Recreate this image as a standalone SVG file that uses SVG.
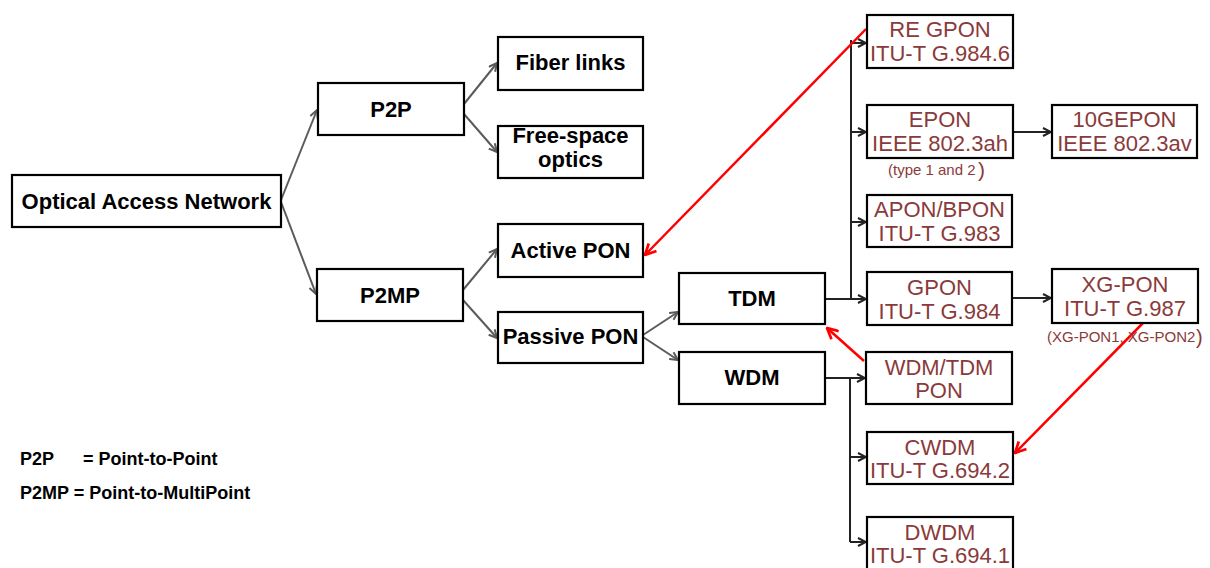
<svg xmlns="http://www.w3.org/2000/svg" width="1210" height="568" viewBox="0 0 1210 568">
  <style>
    .box { fill: #ffffff; stroke: #000000; stroke-width: 2.2; }
    .lbl { font-family: "Liberation Sans", Arial, sans-serif; font-size: 22px; font-weight: bold; fill: #000000; text-anchor: middle; }
    .std { font-family: "Liberation Sans", Arial, sans-serif; font-size: 22px; fill: #8a3a3a; text-anchor: middle; }
    .note { font-family: "Liberation Sans", Arial, sans-serif; fill: #8a3a3a; }
    .legend { font-family: "Liberation Sans", Arial, sans-serif; font-size: 18px; font-weight: bold; fill: #000000; }
    .grey { fill: none; stroke: #5a5a5a; stroke-width: 2; marker-end: url(#ag); }
    .dark { fill: none; stroke: #222222; stroke-width: 2; }
    .darka { fill: none; stroke: #222222; stroke-width: 2; marker-end: url(#ad); }
    .red { fill: none; stroke: #ff0000; stroke-width: 2.5; marker-end: url(#ar); }
  </style>
  <defs>
    <marker id="ag" viewBox="0 0 10 10" refX="9" refY="5" markerWidth="10" markerHeight="10" markerUnits="userSpaceOnUse" orient="auto">
      <path d="M1,1 L9,5 L1,9" fill="none" stroke="#5a5a5a" stroke-width="2"/>
    </marker>
    <marker id="ad" viewBox="0 0 10 10" refX="9" refY="5" markerWidth="10" markerHeight="10" markerUnits="userSpaceOnUse" orient="auto">
      <path d="M1,1 L9,5 L1,9" fill="none" stroke="#222222" stroke-width="2"/>
    </marker>
    <marker id="ar" viewBox="0 0 12 12" refX="11" refY="6" markerWidth="13" markerHeight="13" markerUnits="userSpaceOnUse" orient="auto">
      <path d="M1,1 L11,6 L1,11" fill="none" stroke="#ff0000" stroke-width="2.5"/>
    </marker>
  </defs>

  <!-- connectors -->
  <g id="connectors">
    <path class="grey" d="M281,200 L317,110"/>
    <path class="grey" d="M281,202 L316,294"/>
    <path class="grey" d="M464,104 L497,63"/>
    <path class="grey" d="M464,114 L497,152"/>
    <path class="grey" d="M463,290 L497,249"/>
    <path class="grey" d="M463,300 L497,338"/>
    <path class="grey" d="M643,335 L678,312"/>
    <path class="grey" d="M643,337 L678,360"/>

    <!-- TDM trunk -->
    <path class="dark" d="M825,299 L851,299 M851,299 L851,40"/>
    <path class="darka" d="M851,43 L866,43"/>
    <path class="darka" d="M851,132 L866,132"/>
    <path class="darka" d="M851,222 L866,222"/>
    <path class="darka" d="M851,299 L866,299"/>
    <path class="darka" d="M1013,132 L1051,132"/>
    <path class="darka" d="M1012,298 L1051,298"/>

    <!-- WDM trunk -->
    <path class="darka" d="M825,378 L865,378"/>
    <path class="dark" d="M850,378 L850,542"/>
    <path class="darka" d="M850,457 L866,457"/>
    <path class="darka" d="M850,542 L866,542"/>

    <!-- cross references -->
    <path class="red" d="M866,29 L645,255"/>
    <path class="red" d="M864,361 L827,328"/>
    <path class="red" d="M1143,323 L1015,453"/>
  </g>

  <g id="oan">
    <rect class="box" x="12" y="175" width="269" height="52"/>
    <text class="lbl" x="146.5" y="209">Optical Access Network</text>
  </g>
  <g id="p2p">
    <rect class="box" x="318" y="83" width="146" height="52"/>
    <text class="lbl" x="391" y="117">P2P</text>
  </g>
  <g id="p2mp">
    <rect class="box" x="317" y="269" width="146" height="52"/>
    <text class="lbl" x="390" y="303">P2MP</text>
  </g>
  <g id="fiber">
    <rect class="box" x="498" y="37" width="145" height="53"/>
    <text class="lbl" x="570.5" y="70">Fiber links</text>
  </g>
  <g id="fso">
    <rect class="box" x="498" y="126" width="145" height="52"/>
    <text class="lbl" x="570.5" y="143" font-size="21">Free-space</text>
    <text class="lbl" x="570.5" y="167" font-size="21">optics</text>
  </g>
  <g id="active">
    <rect class="box" x="498" y="224" width="145" height="53"/>
    <text class="lbl" x="570.5" y="258">Active PON</text>
  </g>
  <g id="passive">
    <rect class="box" x="498" y="312" width="145" height="51"/>
    <text class="lbl" x="570.5" y="344">Passive PON</text>
  </g>
  <g id="tdm">
    <rect class="box" x="679" y="273" width="146" height="51"/>
    <text class="lbl" x="752" y="306">TDM</text>
  </g>
  <g id="wdm">
    <rect class="box" x="679" y="352" width="146" height="52"/>
    <text class="lbl" x="752" y="385">WDM</text>
  </g>

  <g id="regpon">
    <rect class="box" x="867" y="15" width="146" height="53"/>
    <text class="std" x="940" y="37">RE GPON</text>
    <text class="std" x="940" y="61">ITU-T G.984.6</text>
  </g>
  <g id="epon">
    <rect class="box" x="867" y="105" width="146" height="53"/>
    <text class="std" x="940" y="127">EPON</text>
    <text class="std" x="940" y="151">IEEE 802.3ah</text>
    <text class="note" x="888" y="175" font-size="15">(type 1 and 2</text>
    <text class="note" x="978" y="177" font-size="21">)</text>
  </g>
  <g id="tengepon">
    <rect class="box" x="1052" y="105" width="145" height="53"/>
    <text class="std" x="1124.5" y="127">10GEPON</text>
    <text class="std" x="1124.5" y="151">IEEE 802.3av</text>
  </g>
  <g id="apon">
    <rect class="box" x="867" y="195" width="145" height="52"/>
    <text class="std" x="939.5" y="217">APON/BPON</text>
    <text class="std" x="939.5" y="241">ITU-T G.983</text>
  </g>
  <g id="gpon">
    <rect class="box" x="867" y="272" width="145" height="53"/>
    <text class="std" x="939.5" y="295">GPON</text>
    <text class="std" x="939.5" y="319">ITU-T G.984</text>
  </g>
  <g id="xgpon">
    <rect class="box" x="1052" y="269" width="146" height="54"/>
    <text class="std" x="1125" y="292">XG-PON</text>
    <text class="std" x="1125" y="316">ITU-T G.987</text>
    <text class="note" x="1047" y="342" font-size="15">(XG-PON1, XG-PON2</text>
    <text class="note" x="1196" y="344" font-size="20">)</text>
  </g>
  <g id="wdmtdm">
    <rect class="box" x="866" y="352" width="146" height="52"/>
    <text class="std" x="939" y="375">WDM/TDM</text>
    <text class="std" x="939" y="398">PON</text>
  </g>
  <g id="cwdm">
    <rect class="box" x="867" y="432" width="146" height="52"/>
    <text class="std" x="940" y="455">CWDM</text>
    <text class="std" x="940" y="478">ITU-T G.694.2</text>
  </g>
  <g id="dwdm">
    <rect class="box" x="867" y="517" width="146" height="60"/>
    <text class="std" x="940" y="540">DWDM</text>
    <text class="std" x="940" y="563">ITU-T G.694.1</text>
  </g>

  <g id="legend">
    <text class="legend" x="20" y="465">P2P</text>
    <text class="legend" x="83" y="465">= Point-to-Point</text>
    <text class="legend" x="20" y="499">P2MP = Point-to-MultiPoint</text>
  </g>
</svg>
